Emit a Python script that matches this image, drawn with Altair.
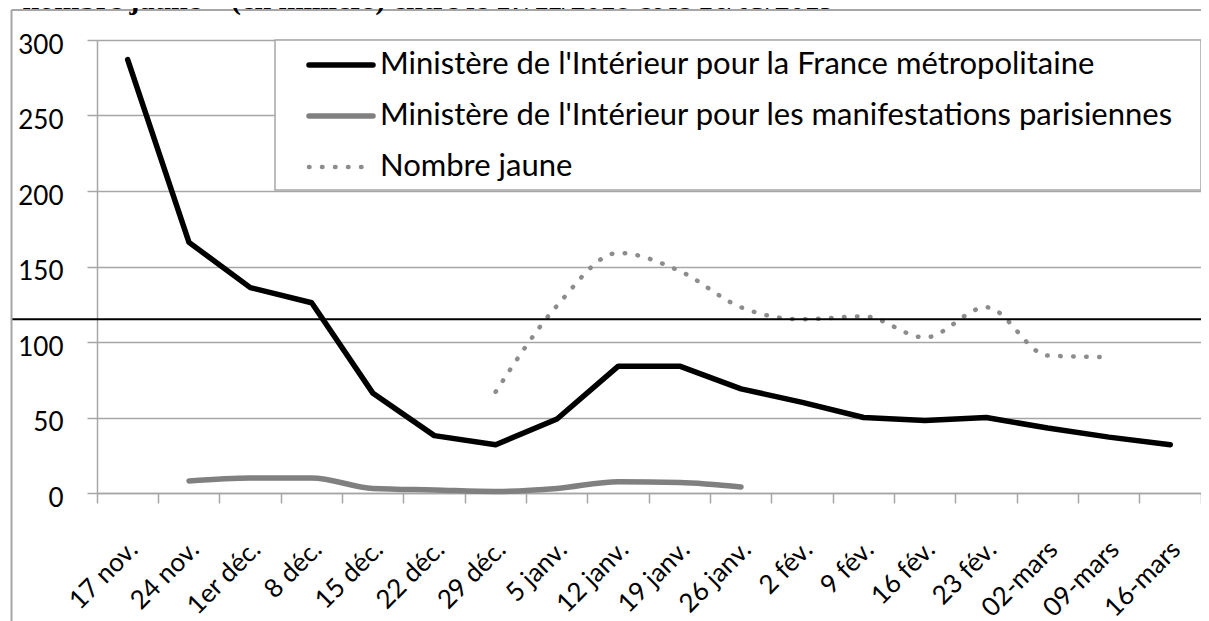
import altair as alt
import pandas as pd

# ---------------- data (thousands of demonstrators) ----------------
categories = ['17 nov.', '24 nov.', '1er déc.', '8 déc.', '15 déc.', '22 déc.', '29 déc.',
              '5 janv.', '12 janv.', '19 janv.', '26 janv.', '2 fév.', '9 fév.', '16 fév.',
              '23 fév.', '02-mars', '09-mars', '16-mars']
france = [287, 166, 136, 126, 66, 38, 32, 49, 84, 84, 69, 60, 50, 48, 50, 43, 37, 32]
paris_cats = ['24 nov.', '1er déc.', '8 déc.', '15 déc.', '22 déc.', '29 déc.',
              '5 janv.', '12 janv.', '19 janv.', '26 janv.']
paris = [8, 10, 10, 3, 2, 1, 3, 7.5, 7, 4]
jaune_cats = ['29 déc.', '5 janv.', '12 janv.', '19 janv.', '26 janv.', '2 fév.', '9 fév.',
              '16 fév.', '23 fév.', '02-mars', '09-mars']
jaune = [67, 124, 159, 147, 123, 115, 117, 103, 123, 91, 90]
series_names = ["Ministère de l'Intérieur pour la France métropolitaine",
                "Ministère de l'Intérieur pour les manifestations parisiennes",
                "Nombre jaune"]
reference_level = [115]
y_ticks = [0, 50, 100, 150, 200, 250, 300]
title_text = "« nombre jaune » (en milliers) entre le 17/11/2018 et le 16/03/2019"

# ---------------- tables ----------------
df_france = pd.DataFrame({'x': categories, 'value': france})
df_paris = pd.DataFrame({'x': paris_cats, 'value': paris})
df_jaune = pd.DataFrame({'x': jaune_cats, 'value': jaune})
df_ref = pd.DataFrame({'value': reference_level})
dummy = pd.DataFrame({'d': [0]})

W, H = 1104, 453
GRID = '#a6a6a6'
FONT = 'Lato'

x_enc = alt.X('x:O',
              scale=alt.Scale(type='band', domain=categories, paddingInner=0, paddingOuter=0),
              bandPosition=0.5,
              axis=alt.Axis(title=None, bandPosition=1, tickExtra=True, grid=False,
                            domainColor=GRID, domainWidth=1.5, tickColor=GRID, tickWidth=1.5,
                            tickSize=10, labelAngle=315, labelAlign='right',
                            labelBaseline='middle', labelPadding=42, labelOffset=6,
                            labelOverlap=False, labelFont=FONT, labelFontSize=26,
                            labelColor='black'))
y_enc = alt.Y('value:Q',
              scale=alt.Scale(domain=[0, 300], nice=False, zero=True),
              axis=alt.Axis(title=None, values=y_ticks, grid=True, gridColor=GRID,
                            gridWidth=1.5, domainColor=GRID, domainWidth=1.5,
                            tickColor=GRID, tickWidth=1.5, tickSize=10, labelPadding=24,
                            labelOffset=5, labelFont=FONT, labelFontSize=26,
                            labelColor='black'))

# ---------------- legend box (drawn manually) ----------------
legend_box = alt.Chart(dummy).mark_rect(fill='white', stroke=GRID, strokeWidth=1.5).encode(
    x=alt.value(178), x2=alt.value(W), y=alt.value(0), y2=alt.value(150))

legend_styles = [
    dict(color='black', strokeWidth=5.5, strokeCap='round'),
    dict(color='#808080', strokeWidth=5.5, strokeCap='round'),
    dict(color='#8c8c8c', strokeWidth=4.5, strokeCap='round', strokeDash=[0.5, 12.5]),
]
legend_rows = [25, 76, 127]
legend_layers = []
for name, style, yy in zip(series_names, legend_styles, legend_rows):
    legend_layers.append(alt.Chart(dummy).mark_rule(**style).encode(
        x=alt.value(212), x2=alt.value(276), y=alt.value(yy)))
    legend_layers.append(alt.Chart(dummy).mark_text(
        align='left', baseline='middle', font=FONT, fontSize=31, color='black').encode(
        x=alt.value(283), y=alt.value(yy), text=alt.value(name)))

# ---------------- series ----------------
line_france = alt.Chart(df_france).mark_line(
    color='black', strokeWidth=5.5, strokeJoin='round', strokeCap='round').encode(x=x_enc, y=y_enc)
line_paris = alt.Chart(df_paris).mark_line(
    color='#808080', strokeWidth=5.5, strokeCap='round', interpolate='monotone').encode(x=x_enc, y=y_enc)
line_jaune = alt.Chart(df_jaune).mark_line(
    color='#8c8c8c', strokeWidth=4.5, strokeCap='round', strokeDash=[0.5, 12.5],
    interpolate='monotone').encode(x=x_enc, y=y_enc)

ref_rule = alt.Chart(df_ref).mark_rule(color='black', strokeWidth=2).encode(
    y=y_enc, x=alt.value(-86), x2=alt.value(W + 10))

# ---------------- outer frame and title ----------------
frame_left = alt.Chart(dummy).mark_rule(color=GRID, strokeWidth=2).encode(
    x=alt.value(-85.5), y=alt.value(-30), y2=alt.value(H + 200))
frame_top = alt.Chart(dummy).mark_rule(color=GRID, strokeWidth=2).encode(
    y=alt.value(-30), x=alt.value(-85.5), x2=alt.value(W + 10))
title = alt.Chart(dummy).mark_text(
    align='left', baseline='alphabetic', font='Liberation Serif', fontWeight='bold',
    fontSize=30, color='black').encode(
    x=alt.value(-97), y=alt.value(-31), text=alt.value(title_text))

chart = alt.layer(
    legend_box, *legend_layers, line_paris, line_jaune, line_france, ref_rule,
    frame_left, frame_top, title
).properties(
    width=W, height=H,
    autosize=alt.AutoSizeParams(type='none'),
    padding={'left': 89, 'top': 32, 'right': 0, 'bottom': 128},
).configure_view(stroke=None)

chart.save('out.html', embed_options={'renderer': 'svg', 'actions': False})
